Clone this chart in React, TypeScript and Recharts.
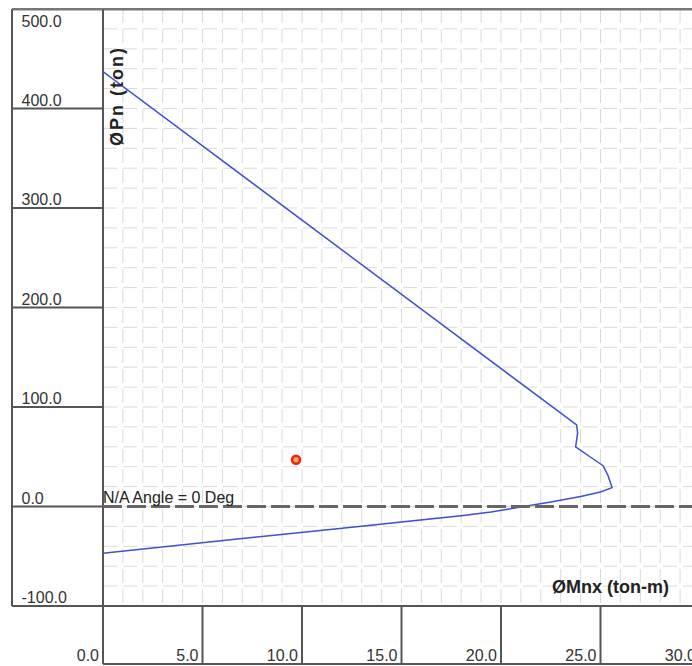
import React from 'react';
import { ComposedChart, Line, Scatter, XAxis, YAxis, CartesianGrid, ReferenceLine } from 'recharts';

// Axis ticks and labels
const xTicks = [0, 5, 10, 15, 20, 25, 30];
const xTickLabels = ['0.0', '5.0', '10.0', '15.0', '20.0', '25.0', '30.0'];
const yTicks = [-100, 0, 100, 200, 300, 400, 500];
const yTickLabels = ['-100.0', '0.0', '100.0', '200.0', '300.0', '400.0', '500.0'];

// Grid positions (every 1 ton-m, every 20 ton)
const gridX = Array.from({ length: 29 }, (_, i) => i + 1);
const gridY = Array.from({ length: 29 }, (_, i) => -80 + i * 20);

// Interaction curve (ØMnx ton-m, ØPn ton)
const curveM = [0, 23.8, 23.85, 23.75, 24.47, 25.13, 25.38, 25.58, 25.0, 24.0, 22.5, 21.0, 19.5, 18.0, 12.5, 6.4, 0];
const curveP = [437, 82, 74, 60, 50, 41, 31, 19, 14.5, 10, 4.5, -0.5, -5.5, -9.2, -20.8, -33.5, -47];

// Load point
const pointM = [9.7];
const pointP = [47];

const curve = curveM.map((m, i) => ({ m, p: curveP[i] }));
const points = pointM.map((m, i) => ({ m, p: pointP[i] }));

const FONT = 'Liberation Sans, Arial, sans-serif';
const TXT = '#333';
const PANEL = '#555';

const PL = 95; // plot left (svg)
const PB = 598; // plot bottom (svg)
const PANEL_L = 4;
const PANEL_B = 656;

const YTick = (props: any) => {
  const { y, payload } = props;
  const v = payload.value;
  const lbl = yTickLabels[yTicks.indexOf(v)];
  const isTop = v === 500;
  return (
    <g>
      <line x1={PANEL_L} x2={PL} y1={y} y2={y} stroke={isTop ? '#777' : PANEL} strokeWidth={isTop ? 3 : 2} />
      <text x={13.5} y={isTop ? y + 18 : y - 3} fontFamily={FONT} fontSize={16} fill={TXT} textAnchor="start">
        {lbl}
      </text>
    </g>
  );
};

const XTick = (props: any) => {
  const { x, payload } = props;
  const v = payload.value;
  const lbl = xTickLabels[xTicks.indexOf(v)];
  return (
    <g>
      <line x1={x} x2={x} y1={PB} y2={PANEL_B} stroke={PANEL} strokeWidth={2} />
      <text x={x - 4} y={653} fontFamily={FONT} fontSize={16} fill={TXT} textAnchor="end">
        {lbl}
      </text>
    </g>
  );
};

const YPanel = () => (
  <g>
    <line x1={PANEL_L} x2={PANEL_L} y1={1} y2={PB} stroke={PANEL} strokeWidth={2} />
    <text
      x={115}
      y={88}
      transform="rotate(-90, 115, 88)"
      textAnchor="middle"
      fontFamily={FONT}
      fontSize={18}
      fontWeight="bold"
      letterSpacing={2}
      fill="#222"
    >
      ØPn (ton)
    </text>
  </g>
);

const XPanel = () => (
  <g>
    <line x1={PL} x2={708} y1={PANEL_B} y2={PANEL_B} stroke={PANEL} strokeWidth={2} />
    <text x={544} y={584.5} fontFamily={FONT} fontSize={18} fontWeight="bold" fill="#222">
      ØMnx (ton-m)
    </text>
  </g>
);

const ZeroLabel = (props: any) => {
  const vb = props.viewBox || { x: PL, y: 498 };
  return (
    <text x={vb.x} y={vb.y - 3.5} fontFamily={FONT} fontSize={16} fill="#222">
      N/A Angle = 0 Deg
    </text>
  );
};

const PointShape = (props: any) => (
  <circle cx={props.cx} cy={props.cy} r={4} fill="#f8a040" stroke="#e0281a" strokeWidth={2.5} />
);

export default function App() {
  return (
    <div style={{ position: 'fixed', left: 8, top: 8, width: 684, height: 658, overflow: 'hidden', background: '#fff' }}>
      <ComposedChart width={708} height={658} margin={{ top: 1, right: 16, bottom: 0, left: 4 }}>
        <CartesianGrid
          stroke="#dadada"
          strokeDasharray="14 6"
          verticalValues={gridX}
          horizontalValues={gridY}
        />
        <XAxis
          type="number"
          dataKey="m"
          domain={[0, 30]}
          ticks={xTicks}
          interval={0}
          height={60}
          tick={XTick}
          tickLine={false}
          axisLine={false}
          allowDataOverflow
          label={{ content: XPanel }}
        />
        <YAxis
          type="number"
          dataKey="p"
          domain={[-100, 500]}
          ticks={yTicks}
          interval={0}
          width={91}
          tick={YTick}
          tickLine={false}
          axisLine={false}
          allowDataOverflow
          label={{ content: YPanel }}
        />
        <ReferenceLine y={500} stroke="#777" strokeWidth={3} />
        <ReferenceLine x={0} stroke={PANEL} strokeWidth={2} />
        <ReferenceLine y={-100} stroke={PANEL} strokeWidth={2} />
        <Line
          data={curve}
          dataKey="p"
          type="linear"
          stroke="#4050d0"
          strokeWidth={1.5}
          dot={false}
          activeDot={false}
          isAnimationActive={false}
        />
        <ReferenceLine y={0} stroke="#666" strokeWidth={3} strokeDasharray="19 5" label={{ content: ZeroLabel }} />
        <Scatter data={points} dataKey="p" shape={PointShape} isAnimationActive={false} />
      </ComposedChart>
    </div>
  );
}
